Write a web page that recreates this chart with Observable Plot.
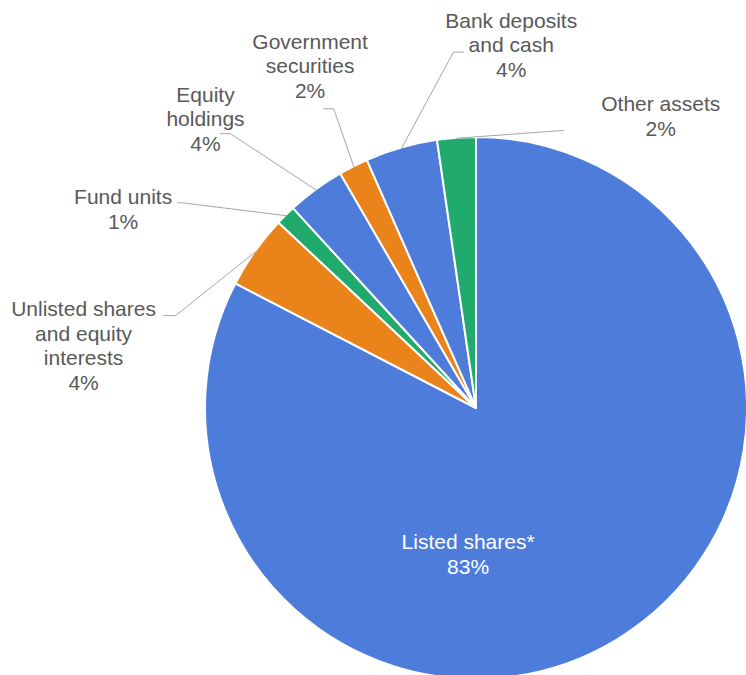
<!DOCTYPE html>
<html>
<head>
<meta charset="utf-8">
<script src="https://cdn.jsdelivr.net/npm/d3@7"></script>
<script src="https://cdn.jsdelivr.net/npm/@observablehq/plot@0.6"></script>
<style>
  html, body { margin: 0; padding: 0; background: #fff; }
  #chart svg { display: block; }
</style>
</head>
<body>
<div id="chart"></div>
<script>
// ---- data ----
const categories = [
  "Listed shares*",
  "Unlisted shares and equity interests",
  "Fund units",
  "Equity holdings",
  "Government securities",
  "Bank deposits and cash",
  "Other assets"
];
const values = [82.6, 4.4, 1.2, 3.45, 1.75, 4.3, 2.3];
const percentLabels = ["83%", "4%", "1%", "4%", "2%", "4%", "2%"];
const labelLines = [
  ["Listed shares*"],
  ["Unlisted shares", "and equity", "interests"],
  ["Fund units"],
  ["Equity", "holdings"],
  ["Government", "securities"],
  ["Bank deposits", "and cash"],
  ["Other assets"]
];

// ---- styles ----
const sliceColors = ["#4e7cdb", "#ea841a", "#20aa6d", "#4e7cdb", "#ea841a", "#4e7cdb", "#20aa6d"];
const textColors = ["#ffffff", "#595959", "#595959", "#595959", "#595959", "#595959", "#595959"];

// ---- layout (unit-circle coordinates: pie radius = 1, centre = 0,0) ----
// text: centre x and baseline of the last line
const labelPos = [
  [-0.031, -0.610],
  [-1.450, 0.070],
  [-1.304, 0.663],
  [-1.000, 0.952],
  [-0.614, 1.1465],
  [0.128, 1.225],
  [0.680, 1.007]
];
// leader-line bend points after the start on the slice edge
const leaderBends = [
  [],
  [[-1.110, 0.343], [-1.155, 0.343]],
  [[-1.086, 0.759], [-1.104, 0.759]],
  [[-0.908, 1.014], [-0.945, 1.014]],
  [[-0.527, 1.106], [-0.564, 1.106]],
  [[-0.085, 1.315], [-0.048, 1.315]],
  [[0.321, 1.026]]
];

// ---- build tables ----
const slices = categories.map((name, i) => ({name, value: values[i], color: sliceColors[i]}));
const arcs = d3.pie().sort(null).value(d => d.value)(slices);

const leaderPoints = [];
arcs.forEach((a, i) => {
  if (!leaderBends[i].length) return;
  const mid = (a.startAngle + a.endAngle) / 2;
  leaderPoints.push({name: categories[i], u: Math.sin(mid), v: Math.cos(mid)});
  leaderBends[i].forEach(([u, v]) => leaderPoints.push({name: categories[i], u, v}));
});

const labels = categories.map((name, i) => ({
  name,
  u: labelPos[i][0],
  v: labelPos[i][1],
  text: [...labelLines[i], percentLabels[i]].join("\n"),
  fill: textColors[i]
}));

// ---- pie render mark using Plot's scales ----
const pieSlices = (index, scales) => {
  const x0 = scales.x(0), y0 = scales.y(0), r = scales.x(1) - x0;
  const arc = d3.arc().innerRadius(0).outerRadius(r);
  const g = d3.create("svg:g").attr("transform", `translate(${x0},${y0})`);
  g.selectAll("path")
    .data(arcs)
    .join("path")
    .attr("d", arc)
    .attr("fill", d => d.data.color)
    .attr("stroke", "#ffffff")
    .attr("stroke-width", 2)
    .attr("stroke-linejoin", "round");
  return g.node();
};

const W = 746, H = 675, R = 271, CX = 476, CY = 408;

const chart = Plot.plot({
  width: W,
  height: H,
  margin: 0,
  x: {domain: [-CX / R, (W - CX) / R], range: [0, W], axis: null},
  y: {domain: [-(H - CY) / R, CY / R], range: [H, 0], axis: null},
  style: {fontFamily: "'Liberation Sans', Arial, sans-serif", background: "#ffffff"},
  marks: [
    pieSlices,
    Plot.line(leaderPoints, {x: "u", y: "v", z: "name", stroke: "#a6a6a6", strokeWidth: 1}),
    Plot.text(labels, {
      x: "u", y: "v", text: "text", fill: "fill",
      fontSize: 21, lineHeight: 1.16, lineAnchor: "bottom", textAnchor: "middle"
    })
  ]
});

document.getElementById("chart").append(chart);
</script>
</body>
</html>
